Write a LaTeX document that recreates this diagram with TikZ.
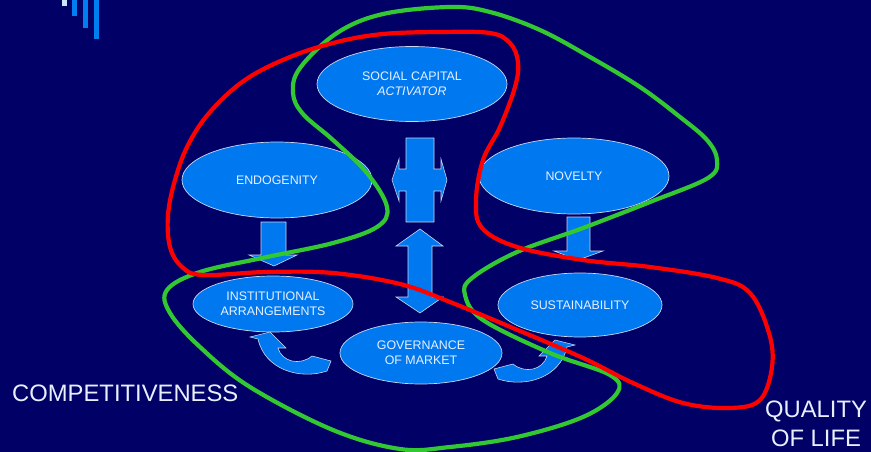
\documentclass[tikz,border=0pt]{standalone}
\usepackage{fontspec}
\setmainfont{Liberation Sans}
\usetikzlibrary{shapes.geometric}
\definecolor{bgnavy}{RGB}{0,0,102}
\definecolor{ellfill}{RGB}{0,120,240}
\definecolor{ellline}{RGB}{200,215,240}
\definecolor{txtcol}{RGB}{232,240,255}
\definecolor{loopred}{RGB}{255,0,0}
\definecolor{loopgreen}{RGB}{50,200,50}
\definecolor{barlight}{RGB}{205,230,255}
\definecolor{barblue}{RGB}{0,128,240}
\begin{document}
\begin{tikzpicture}[x=1pt,y=-1pt,
  ellnode/.style={ellipse, fill=ellfill, draw=ellline, line width=0.7pt, inner sep=0pt,
    text=txtcol, font=\fontsize{12.4}{15}\selectfont, align=center},
  blockarrow/.style={fill=ellfill, draw=ellline, line width=0.6pt, line join=miter},
  bigtext/.style={text=txtcol, inner sep=0pt, font=\fontsize{23.8}{28}\selectfont},
  redloop/.style={draw=loopred, line width=4.2pt},
  greenloop/.style={draw=loopgreen, line width=4.2pt}]
\useasboundingbox (0,0) rectangle (871,452);
\fill[bgnavy] (0,0) rectangle (871,452);
% decorative bars
\fill[barlight] (62,0) rectangle (67,6);
\fill[barblue] (72,0) rectangle (77,16);
\fill[barblue] (83,0) rectangle (88,28);
\fill[barblue] (94,0) rectangle (99,39);
% ellipses
\node[ellnode, minimum width=190pt, minimum height=75pt] (social) at (412,84) {SOCIAL CAPITAL\\\textit{ACTIVATOR}};
\node[ellnode, minimum width=190pt, minimum height=76pt] (endo) at (277,180) {ENDOGENITY};
\node[ellnode, minimum width=190pt, minimum height=76pt] (nov) at (574,176) {NOVELTY};
\node[ellnode, minimum width=160pt, minimum height=56pt] (inst) at (273,304) {INSTITUTIONAL\\ARRANGEMENTS};
\node[ellnode, minimum width=164pt, minimum height=64pt] (sust) at (580,305) {SUSTAINABILITY};
\node[ellnode, minimum width=162pt, minimum height=62pt] (gov) at (421,353) {GOVERNANCE\\OF MARKET};
% block arrows
\draw[blockarrow] (261,222) -- (286,222) -- (286,255) -- (297,255) -- (274,266) -- (249,255) -- (261,255) -- cycle;
\draw[blockarrow] (567,217) -- (590,217) -- (590,251) -- (603,251) -- (578,260) -- (554,251) -- (567,251) -- cycle;
\draw[blockarrow] (420,229) -- (443,246) -- (432,246) -- (432,297) -- (443,297) -- (420,313) -- (396,297) -- (408,297) -- (408,246) -- (396,246) -- cycle;
\draw[blockarrow] (406,138) -- (434,138) -- (434,169) -- (441,169) -- (441,159) -- (447,180) -- (441,201) -- (441,191) -- (434,191) -- (434,222) -- (406,222) -- (406,191) -- (399,191) -- (399,201) -- (392,180) -- (399,159) -- (399,169) -- (406,169) -- cycle;
% curved arrows
\draw[blockarrow] (270,332) -- (286,348) -- (278,348) .. controls (282,362) and (300,366) .. (312,356) -- (331,361) -- (327,371) .. controls (300,380) and (265,370) .. (258,339) -- (250,337) -- cycle;
\draw[blockarrow] (555,340) -- (539,356) -- (547,356) .. controls (543,370) and (525,374) .. (513,364) -- (494,369) -- (498,379) .. controls (525,388) and (560,378) .. (567,347) -- (575,345) -- cycle;
% loops
\draw[greenloop] plot[smooth cycle, tension=0.6] coordinates {(450,7) (490,12) (540,30) (590,57) (640,87) (680,117) (707,140) (717,160) (708,178) (650,202) (583,228) (517,252) (472,278) (465,295) (483,320) (550,353) (610,375) (617,393) (583,417) (517,437) (450,447) (400,449) (333,430) (250,387) (200,347) (170,313) (167,290) (200,272) (267,257) (333,243) (377,227) (387,207) (367,173) (333,140) (303,114) (293,93) (300,68) (337,33) (383,14)};
\draw[redloop] plot[smooth cycle, tension=0.6] coordinates {(337,42) (383,34) (440,32) (490,33) (510,43) (518,62) (515,87) (500,127) (483,160) (476,200) (482,228) (517,247) (583,260) (650,267) (717,278) (750,293) (769,333) (772,367) (760,400) (730,408) (683,403) (633,383) (583,358) (520,331) (450,302) (400,284) (333,273) (267,272) (203,275) (182,267) (170,247) (168,215) (175,180) (188,145) (210,112) (245,80) (290,57)};
% labels
\node[bigtext, anchor=base west] (comp) at (12,401) {COMPETITIVENESS};
\node[bigtext, anchor=base] (qual) at (816,417) {QUALITY};
\node[bigtext, anchor=base] (life) at (816,446) {OF LIFE};
\end{tikzpicture}
\end{document}
